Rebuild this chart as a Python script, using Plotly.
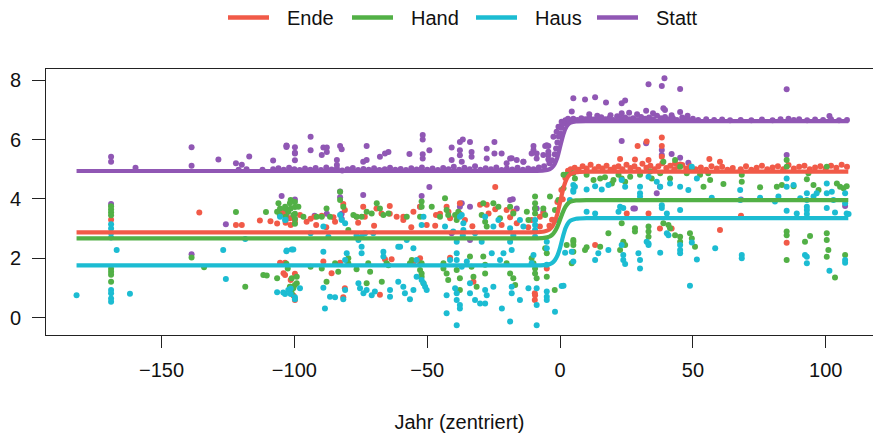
import plotly.graph_objects as go

# ---------------- data ----------------
series_names = ["Ende", "Hand", "Haus", "Statt"]
series_colors = ["#F15A48", "#52B046", "#1CBCD2", "#9057B4"]

x_ticks = [-150, -100, -50, 0, 50, 100]
x_tick_labels = ["\u2212150", "\u2212100", "\u221250", "0", "50", "100"]
y_ticks = [0, 2, 4, 6, 8]
y_tick_labels = ["0", "2", "4", "6", "8"]

# fitted curves, read at a few x positions
fit_x = [-182, -10, -6, -4, -3, -2, -1, 0, 1, 2, 3, 4, 6, 10, 108.5]
fit_ende = [2.87, 2.87, 2.9, 2.97, 3.06, 3.23, 3.5, 3.88, 4.27, 4.57, 4.75, 4.84, 4.9, 4.92, 4.92]
fit_hand = [2.67, 2.67, 2.69, 2.73, 2.79, 2.9, 3.07, 3.3, 3.54, 3.73, 3.85, 3.91, 3.95, 3.96, 3.96]
fit_haus = [1.76, 1.76, 1.77, 1.8, 1.84, 1.93, 2.09, 2.35, 2.7, 3.0, 3.18, 3.27, 3.33, 3.35, 3.35]
fit_statt = [4.94, 4.94, 4.96, 5.0, 5.06, 5.18, 5.4, 5.75, 6.1, 6.36, 6.5, 6.57, 6.61, 6.62, 6.62]

# observed points (x, y)
ende_points = [
    (-135.8, 3.54), (-122, 3.12), (-119.8, 3.12), (-113, 3.27), (-109, 3.25), (-106.5, 3.17),
    (-103.3, 3.2), (-101.4, 3.12), (-99.8, 3.3), (-99.8, 3.2), (-169, 3.3), (-103.5, 1.85),
    (-103.5, 1.44), (-101.4, 1.27), (-99.8, 1.48), (-99.8, 0.6),
    (-104.8, 3.57), (-103.5, 3.51), (-101.7, 3.35), (-97.9, 3.46), (-95.4, 3.23), (-92.4, 3.4),
    (-91.8, 3.12), (-93.9, 3.33), (-89.7, 3.43), (-85.3, 3.38), (-84.7, 3.23), (-81.6, 3.83),
    (-81, 3.63), (-76.6, 3.4), (-76, 3.2), (-74.1, 3.74), (-73.5, 3.4), (-69.1, 3.68),
    (-67.2, 3.51), (-64.1, 3.76), (-64.1, 3.5), (-61.5, 3.4), (-59, 3.4), (-59, 3.29),
    (-55.2, 3.57), (-52.7, 3.74), (-50.2, 3.12), (-46.7, 3.46), (-45.2, 3.5), (-42.7, 3.74),
    (-42, 3.57), (-41.4, 3.35), (-37.7, 3.85), (-37.7, 3.5), (-35.8, 3.29), (-30.1, 3.8),
    (-27.6, 3.8), (-26.9, 3.51), (-24.4, 4.4), (-24.4, 3.65), (-20.1, 3.63), (-18.8, 3.38),
    (-17.6, 3.57), (-16.3, 3.18), (-10.7, 3.29), (-7.6, 3.4), (-6.3, 3.5), (-7.6, 3.07),
    (-88, 3.05), (-70, 3.1), (-56, 3.05), (-47, 3.1), (-33, 3.08), (-22, 3.12), (-12, 3.05), (-4, 3.1),
    (-89.1, 1.89), (-86, 1.5), (-82.8, 1.85), (-81, 0.99), (-81.6, 0.69), (-67.8, 0.77),
    (-65.9, 1.97), (-55.2, 1.85), (-52.7, 2.0), (-52.7, 1.8), (-41.4, 2.02), (-32.6, 1.21),
    (-9.5, 0.82), (-9.5, 0.6), (-105.4, 1.85), (-104.1, 1.5), (-100.3, 0.74), (-63.4, 1.97),
    (-5, 1.66), (-9.4, 0.76),
    (-3, 3.3), (-1, 3.9), (0.5, 4.3), (1, 3.99), (2, 4.7), (3, 4.95),
    (38.3, 6.07), (29.2, 5.78), (22.6, 5.34), (28.2, 5.33), (33.3, 5.31), (38.3, 5.78),
    (38.3, 5.42), (56.2, 5.34), (60.2, 5.25), (43.3, 5.2), (45.2, 5.16), (25.1, 3.51),
    (33.3, 3.51), (42, 3.0), (60.2, 2.95), (68.1, 3.43), (85.3, 2.52), (13.2, 2.45),
    (37.6, 3.0), (32.6, 5.93),
    (4, 5.0), (5.5, 5.05), (7, 4.98), (8.5, 5.1), (10, 5.02), (11.5, 5.15), (13, 5.0),
    (14.5, 5.08), (16, 5.02), (17.5, 5.12), (19, 4.98), (20.5, 5.06), (22, 5.1), (23.5, 5.0),
    (25, 5.15), (26.5, 5.04), (28, 5.1), (29.5, 4.98), (31, 5.18), (32.5, 5.05), (34, 5.12),
    (35.5, 5.0), (37, 5.1), (38.5, 5.2), (40, 5.04), (41.5, 5.12), (43, 5.0), (44.5, 5.08),
    (46, 5.14), (47.5, 5.02), (49, 5.1), (51, 5.0), (53, 5.06), (55, 4.98), (57, 5.1),
    (59, 5.02), (61, 5.08), (63, 4.98), (65, 5.04), (68, 5.0), (70, 5.1), (72, 4.98),
    (74, 5.05), (76, 5.12), (78, 5.0), (80, 5.06), (82, 5.1), (84, 5.0), (86, 5.14),
    (88, 5.02), (90, 5.08), (92, 5.12), (94, 5.0), (96, 5.06), (98, 5.1), (100, 5.02),
    (102, 5.12), (104, 5.05), (106, 5.15), (108, 5.08),
]

hand_points = [
    (-169, 3.75), (-169, 3.65), (-169, 3.55), (-169, 3.45), (-169, 1.65), (-169, 1.55),
    (-169, 1.45), (-169, 1.21), (-138.7, 2.03), (-134, 1.7), (-122, 3.56), (-118.5, 1.04),
    (-111.7, 1.44), (-110.4, 1.42), (-110.7, 3.56), (-106.5, 1.33), (-106, 3.85), (-106.5, 3.57),
    (-105.5, 3.46), (-103.3, 3.68), (-101.4, 3.68), (-103.3, 3.4), (-101.4, 3.96), (-99.8, 3.9),
    (-99.8, 3.73), (-103, 1.82), (-102.5, 1.66), (-101, 1.33), (-99.8, 3.5), (-99.8, 3.33),
    (-99.8, 3.16), (-101.4, 1.04), (-99.8, 1.1),
    (-105.4, 3.68), (-103.5, 3.74), (-102.3, 3.57), (-100.4, 3.46), (-98.5, 3.74), (-96.6, 3.4),
    (-101.7, 3.85), (-91.6, 3.4), (-89.7, 3.4), (-87.9, 3.68), (-86.6, 3.4), (-82.8, 4.24),
    (-82.8, 3.96), (-81.6, 3.74), (-79.7, 2.95), (-77.8, 3.46), (-76.6, 3.4), (-74.7, 3.4),
    (-72.8, 3.57), (-70.9, 3.51), (-69, 3.85), (-67.8, 3.68), (-66.5, 3.46), (-64.6, 3.51),
    (-57.7, 3.4), (-52.7, 3.4), (-52.1, 3.74), (-52.1, 3.91), (-48.3, 3.74), (-45.2, 3.4),
    (-43.3, 4.02), (-42.7, 3.63), (-42.1, 3.46), (-39.5, 3.46), (-38.9, 3.29), (-38.3, 3.57),
    (-28.9, 3.85), (-29.5, 3.46), (-28.2, 3.23), (-27.6, 3.07), (-25.1, 3.85), (-23.2, 3.74),
    (-22.6, 3.35), (-18.8, 3.74), (-17.6, 3.51), (-12.5, 3.57), (-11.9, 3.29), (-9.4, 4.08),
    (-9.4, 3.85), (-9.4, 3.68), (-9.4, 3.51), (-6.3, 3.68), (-5.6, 3.46), (-3.8, 4.08),
    (-1.9, 3.63), (-0.6, 3.96), (1.3, 4.36), (2.5, 4.81),
    (-99.1, 1.38), (-99.1, 1.16), (-101.7, 1.04), (-100.4, 0.99), (-101, 0.82), (-93.9, 1.72),
    (-89.7, 1.66), (-87.9, 1.21), (-84.7, 1.83), (-83.5, 1.55), (-79.7, 2.0), (-79.7, 1.83),
    (-76.6, 1.63), (-72.2, 1.83), (-71.5, 1.55), (-72.8, 1.16), (-67.1, 1.21), (-65.3, 1.83),
    (-64.6, 1.77), (-56.5, 1.83), (-55.8, 1.94), (-52.7, 1.61), (-52.1, 1.83), (-52.1, 1.49),
    (-52.1, 1.38), (-51.4, 1.16), (-43.9, 1.83), (-43.9, 1.66), (-42.7, 1.49), (-42.1, 1.27),
    (-38.9, 1.61), (-37.7, 1.33), (-37.7, 0.93), (-33.9, 2.06), (-33.3, 1.72), (-32.6, 1.38),
    (-31.4, 1.04), (-28.9, 2.06), (-28.2, 1.78), (-28.2, 1.49), (-20.1, 1.83), (-18.8, 1.49),
    (-17.6, 1.33), (-16.9, 1.1), (-10.7, 2.0), (-10, 1.83), (-9.4, 1.66), (-9.4, 1.49),
    (-8.8, 1.33), (-5.6, 2.34), (-5, 2.17), (-5, 1.38), (-2, 0.93), (2.5, 2.45), (5, 2.56),
    (5, 2.22), (4.4, 1.83),
    (5, 4.86), (5.6, 4.69), (10, 4.81), (12.6, 4.64), (15.1, 4.69), (16.9, 4.73), (19.5, 4.52),
    (20.1, 4.64), (22, 4.81), (23.2, 4.69), (24.5, 4.58), (26.4, 4.75), (30.1, 4.81),
    (33.9, 4.92), (34.5, 4.69), (37.7, 4.86), (38.9, 5.25), (41.4, 4.69), (43.3, 5.31),
    (45.2, 5.08), (47.7, 4.86), (49.6, 4.97), (52.7, 4.81), (55.8, 4.86), (56.5, 4.64),
    (54, 4.41), (61.5, 4.5), (68.4, 4.81), (68.4, 4.58), (75.3, 4.39), (81.6, 4.41),
    (83.5, 4.47), (85.3, 5.31), (85.3, 5.08), (87.9, 4.43), (92.9, 4.66), (93.5, 4.86),
    (95.4, 4.47), (97.3, 4.3), (100.4, 5.08), (104.2, 4.52), (105.4, 4.41), (106.7, 4.36),
    (107.9, 4.43), (1.3, 4.81),
    (5, 2.62), (5, 2.45), (10, 2.37), (9.4, 2.28), (18.2, 2.84), (23.2, 3.18), (23.8, 2.56),
    (24.5, 2.45), (28.2, 3.01), (28.2, 2.9), (33.3, 3.07), (33.3, 2.9), (33.3, 2.73),
    (38.9, 3.18), (40.8, 3.12), (41.4, 3.01), (43.3, 2.78), (45.2, 2.73), (45.2, 2.56),
    (48.9, 2.84), (49.6, 2.67), (50.8, 2.39), (85.3, 2.9), (85.3, 2.78), (85.3, 1.94),
    (92.2, 2.56), (94.1, 2.75), (100.4, 2.84), (100.4, 2.62), (101, 2.28), (100.4, 2.05),
    (103.5, 1.35), (107.3, 2.11), (22.6, 2.28), (15.1, 2.39),
]

haus_points = [
    (-182, 0.76), (-169, 0.93), (-169, 0.82), (-169, 0.65), (-169, 0.54), (-169, 3.15),
    (-169, 3.0), (-169, 2.85), (-169, 2.7), (-166.9, 2.28), (-161.9, 0.81), (-126.8, 2.28),
    (-125.8, 1.3), (-118.5, 2.65), (-106.5, 0.86), (-103.5, 0.8), (-101.4, 0.8), (-103, 2.24),
    (-101, 2.3), (-99.8, 0.69), (-103.3, 3.3), (-101.4, 0.98),
    (-105.4, 3.4), (-103.5, 3.29), (-93.9, 2.84), (-89.1, 3.07), (-87.2, 2.73), (-82.8, 3.46),
    (-82.2, 3.29), (-80.9, 3.18), (-76.6, 2.78), (-75.9, 2.62), (-74.7, 2.73), (-73.4, 2.84),
    (-70.3, 2.84), (-57.7, 2.62), (-60.2, 2.39), (-51.4, 3.4), (-52.1, 3.12), (-43.3, 3.07),
    (-40.2, 2.9), (-37.7, 3.4), (-37, 3.46), (-36.4, 3.18), (-36.4, 2.95), (-36.6, 2.78),
    (-32, 2.84), (-29.5, 2.56), (-28.2, 3.4), (-25.1, 3.07), (-23.2, 3.29), (-18.8, 3.01),
    (-17.6, 2.78), (-15.1, 3.29), (-13.8, 3.07), (-9.4, 3.29), (-9.4, 3.12), (-9.4, 2.95),
    (-9.4, 2.73), (-5, 2.56), (-5, 2.34), (-1.3, 3.29), (3.7, 3.96), (5, 4.3),
    (-102.9, 2.26), (-100.4, 2.3), (-89.1, 2.22), (-80.3, 2.17), (-80.9, 1.94), (-74.7, 2.39),
    (-74.7, 2.17), (-66.5, 2.22), (-66.5, 2.06), (-60.9, 2.39), (-55.2, 2.34), (-54, 1.94),
    (-41.4, 1.94), (-38.9, 2.56), (-38.9, 2.17), (-38.9, 1.94), (-37, 1.72), (-35.1, 1.89),
    (-25.7, 2.17), (-22.6, 1.94), (-21.3, 2.17), (-18.8, 2.56), (-18.2, 2.28), (-10.7, 1.83),
    (-10, 2.11), (-5, 1.78),
    (-104.2, 0.85), (-102.3, 0.93), (-97.9, 0.99), (-99.8, 0.62), (-89.1, 1.01), (-88.5, 0.31),
    (-86.6, 0.71), (-84.7, 0.69), (-81.6, 0.62), (-80.9, 0.93), (-75.9, 1.16), (-75.3, 0.99),
    (-74, 0.82), (-72.8, 0.93), (-70.9, 0.76), (-69.7, 0.88), (-64, 0.93), (-64, 0.71),
    (-60.9, 1.21), (-59, 1.04), (-58.4, 0.82), (-56.5, 0.62), (-55.2, 0.93), (-54, 1.38),
    (-52.1, 1.27), (-51.4, 1.16), (-50.8, 1.04), (-50.2, 0.93), (-42.7, 0.76), (-42.7, 0.15),
    (-39.5, 0.99), (-38.9, 0.82), (-38.9, 0.6), (-38.9, -0.25), (-37.7, 0.43), (-37.7, 0.31),
    (-33.9, 1.16), (-33.9, 0.82), (-32, 0.6), (-30.1, 0.48), (-28.2, 0.48), (-28.2, 0.93),
    (-27.6, 0.76), (-25.1, 1.04), (-21.9, 0.31), (-18.8, -0.13), (-18.2, 1.04), (-18.2, 0.82),
    (-15.1, 0.6), (-11.9, 0.99), (-8.8, 0.99), (-8.8, 0.43), (-8.8, -0.25), (-5, 0.88),
    (-5, 0.71), (-5, 0.6), (-1.9, 0.2), (0.6, 1.07),
    (5, 4.47), (5, 4.24), (5.6, 4.41), (10, 4.32), (13.2, 4.43), (15.7, 4.32), (18.2, 4.47),
    (23.2, 4.64), (24.5, 4.41), (30.1, 4.41), (30.1, 4.19), (30.1, 4.08), (33.3, 4.75),
    (36.4, 4.58), (37.7, 4.41), (41.4, 4.52), (45.2, 4.41), (49.6, 5.08), (48.3, 4.3),
    (51.5, 4.69), (57.1, 4.04), (67.8, 4.3), (67.8, 3.96), (75.3, 4.04), (80.9, 3.91),
    (82.2, 4.08), (85.3, 4.41), (85.3, 4.69), (87.9, 4.47), (90.4, 4.02), (92.9, 4.19),
    (92.9, 3.96), (92.9, 3.74), (95.4, 4.08), (96.6, 4.19), (100.4, 4.52), (100.4, 4.19),
    (102.3, 4.24), (102.9, 3.96), (107.3, 4.19), (107.3, 3.85), (107.9, 3.51),
    (10, 3.57), (13.2, 3.51), (22, 3.57), (22.6, 3.74), (23.8, 3.69), (38.3, 3.79),
    (38.3, 3.69), (40.2, 3.51), (45.2, 3.63), (89.1, 3.51), (92.9, 3.63), (92.9, 3.49),
    (100.4, 3.69), (103.5, 3.54), (108.6, 3.49), (85.3, 3.6),
    (1.9, 2.19), (1.3, 1.08), (5, 1.89), (13.2, 1.94), (14.4, 2.17), (18.2, 2.28), (23.2, 2.45),
    (23.8, 2.11), (23.8, 1.94), (24.5, 1.81), (29.5, 2.17), (30.1, 1.94), (30.1, 1.66),
    (32.6, 2.56), (33.3, 2.5), (33.3, 2.45), (37.7, 2.19), (40.2, 2.84), (40.8, 2.78),
    (45.2, 2.45), (45.2, 2.28), (45.2, 2.17), (49.6, 2.53), (51.5, 1.96), (48.9, 1.08),
    (58.4, 2.34), (68.4, 2.11), (68.4, 2.0), (92.2, 2.11), (92.9, 1.83), (92.9, 2.05),
    (101.4, 1.58), (107.3, 1.94), (107.3, 1.85), (4.4, 2.22),
]

statt_points = [
    (-169, 5.42), (-169, 5.25), (-169, 3.83), (-159.8, 5.05), (-138.7, 5.74), (-138.7, 5.12),
    (-138.7, 2.14), (-128.6, 5.33), (-125.8, 3.15), (-122, 5.2), (-119.8, 5.15), (-117, 5.43),
    (-108, 5.29), (-104.8, 4.1), (-103, 5.8), (-103, 5.75), (-103, 3.46), (-99.8, 5.74),
    (-99.8, 5.55), (-99.8, 3.98), (-102.9, 5.78), (-99.8, 5.3), (-99.8, 5.53), (-93.9, 6.09),
    (-93.9, 5.64), (-89.1, 5.73), (-87.8, 5.73), (-87.8, 5.58), (-87.8, 3.5), (-89.7, 5.48),
    (-82.8, 5.78), (-82.2, 5.67), (-84, 5.31), (-84, 5.14), (-82.8, 4.25), (-82.8, 4.06),
    (-82.2, 3.5), (-82.2, 3.33), (-92.4, 3.43), (-72.8, 5.78), (-72.8, 5.31), (-74.1, 5.25),
    (-74.1, 4.13), (-67.8, 5.42), (-65.9, 5.53), (-64.6, 5.58), (-56.7, 5.51),
    (-51.7, 6.15), (-51.7, 6.0), (-51.7, 5.5), (-51.7, 5.36), (-52.1, 4.1), (-49.2, 5.64),
    (-49.2, 4.4), (-52.7, 3.74), (-40.8, 5.73), (-37.7, 5.92), (-36.6, 6.0), (-33.9, 5.92),
    (-40.8, 5.31), (-37.7, 5.64), (-37.7, 5.47), (-37, 5.25), (-33.3, 5.58), (-33.3, 5.42),
    (-37.7, 3.74), (-37, 3.85), (-33.9, 2.62), (-33.9, 3.74), (-40.8, 2.84), (-27.6, 5.69),
    (-27.6, 5.36), (-24.7, 5.92), (-24.7, 5.53), (-22, 5.53), (-18.8, 5.36), (-18.8, 3.96),
    (-16.3, 3.68), (-17.8, 3.99), (-13.8, 5.25), (-10, 5.78), (-8.8, 5.36), (-8.8, 5.53),
    (-8.8, 3.68), (-6.3, 3.57), (-9.4, 3.68), (-5.6, 5.78), (-4.4, 5.78), (-4.4, 5.47),
    (-4.4, 5.33), (-5, 5.81), (-4.4, 5.59), (-6.3, 5.48), (-10, 5.65), (-10.7, 5.53),
    (-13.8, 5.25), (-16.3, 5.31), (-18.2, 5.37), (-20.1, 5.2), (-2.5, 6.09), (-1.3, 6.26),
    (-0.6, 6.43), (0, 6.2), (0.6, 6.6), (1.2, 6.54), (2.5, 6.6),
    (-121, 4.98), (-118, 5.0), (-112, 4.98), (-108, 5.0), (-106, 5.03), (-104, 4.98),
    (-102, 5.05), (-100, 5.0), (-98, 4.97), (-96, 5.02), (-94, 4.98), (-92, 5.04), (-90, 4.97),
    (-88, 5.06), (-86, 4.99), (-84, 5.02), (-82, 4.96), (-80, 5.0), (-78, 5.04), (-76, 4.97),
    (-74, 5.01), (-72, 4.98), (-70, 5.03), (-68, 4.97), (-66, 5.0), (-64, 5.05), (-62, 4.98),
    (-60, 5.01), (-58, 4.97), (-56, 5.03), (-54, 4.99), (-52, 5.06), (-50, 4.98), (-48, 5.02),
    (-46, 4.97), (-44, 5.04), (-42, 5.0), (-40, 5.08), (-38, 4.98), (-36, 5.05), (-34, 5.0),
    (-32, 5.1), (-30, 4.98), (-28, 5.03), (-26, 5.0), (-24, 5.06), (-22, 4.97), (-20, 5.02),
    (-18, 4.99), (-16, 5.05), (-14, 4.98), (-12, 5.02), (-10, 5.0), (-8, 5.06), (-6, 5.1),
    (-4, 5.2), (-3, 5.3), (-2, 5.5), (-1.5, 5.7), (-1, 5.9), (-0.5, 6.1), (0.5, 6.4),
    (1, 6.55), (2, 6.65), (3, 6.7),
    (5.0, 7.39), (9.4, 7.35), (13.2, 7.42), (17.3, 7.25), (4.4, 6.94), (23.2, 7.22),
    (24.5, 7.31), (33.3, 7.86), (38.3, 7.8), (39.3, 8.06), (45.2, 7.7), (23.2, 6.88),
    (32.4, 6.97), (38.9, 7.05), (39.5, 6.99), (45.2, 6.93), (85.3, 7.69), (101.4, 6.79),
    (23.2, 5.95), (32.4, 5.87), (38.3, 5.65), (38.3, 5.48), (42, 5.51), (45.2, 5.39),
    (48.3, 5.22), (37.6, 4.41), (36.4, 4.19), (28.2, 3.68), (85.3, 5.48), (107.3, 3.76),
    (68.1, 3.98), (27.6, 3.68), (11, 6.85), (14, 6.8), (19, 6.82), (26, 6.9), (29, 6.85),
    (35, 6.88), (42, 6.82), (48, 6.8),
    (3.5, 6.65), (5, 6.7), (6.5, 6.66), (8, 6.72), (9.5, 6.68), (11, 6.74), (12.5, 6.67),
    (14, 6.7), (15.5, 6.75), (17, 6.68), (18.5, 6.72), (20, 6.66), (21.5, 6.78), (23, 6.7),
    (24.5, 6.74), (26, 6.68), (27.5, 6.72), (29, 6.66), (30.5, 6.76), (32, 6.7), (33.5, 6.74),
    (35, 6.68), (36.5, 6.8), (38, 6.72), (39.5, 6.76), (41, 6.68), (42.5, 6.72), (44, 6.66),
    (46, 6.74), (48, 6.68), (50, 6.7), (52, 6.66), (55, 6.68), (58, 6.66), (61, 6.67),
    (64, 6.65), (68, 6.66), (72, 6.65), (76, 6.67), (80, 6.65), (83, 6.68), (86, 6.7),
    (88, 6.66), (90, 6.68), (93, 6.65), (96, 6.67), (99, 6.66), (102, 6.68), (105, 6.65),
    (108, 6.66),
]

# ---------------- figure ----------------
W, H = 873, 433
M_L, M_R, M_T, M_B = 46, 0, 69, 98
FONT = "Liberation Sans, Arial, Helvetica, sans-serif"
TXT = "#111111"

points_by_series = [ende_points, hand_points, haus_points, statt_points]
fits_by_series = [fit_ende, fit_hand, fit_haus, fit_statt]

fig = go.Figure()

# points (drawn in this order: Statt, Ende, Hand, Haus)
for idx in [3, 0, 1, 2]:
    pts = points_by_series[idx]
    fig.add_trace(go.Scatter(
        x=[p[0] for p in pts], y=[p[1] for p in pts],
        mode="markers", name=series_names[idx], showlegend=False,
        marker=dict(color=series_colors[idx], size=6, line=dict(width=0)),
        hoverinfo="skip",
    ))

# fitted curves
for idx in range(4):
    fig.add_trace(go.Scatter(
        x=fit_x, y=fits_by_series[idx], mode="lines", name=series_names[idx],
        showlegend=False, line=dict(color=series_colors[idx], width=4.2, shape="spline", smoothing=0.5),
    ))

# legend drawn as shapes + text across the top
plot_w = W - M_L - M_R
plot_h = H - M_T - M_B
def px_x(px):
    return (px - M_L) / plot_w
def px_y(py):
    return (H - M_B - py) / plot_h

legend_swatch_px = [228, 352, 476, 597]
legend_y_px = 17.5
for i, name in enumerate(series_names):
    x0 = legend_swatch_px[i]
    fig.add_shape(type="line", xref="paper", yref="paper",
                  x0=px_x(x0), x1=px_x(x0 + 41), y0=px_y(legend_y_px), y1=px_y(legend_y_px),
                  line=dict(color=series_colors[i], width=4.5))
    fig.add_annotation(xref="paper", yref="paper", x=px_x(x0 + 57), y=px_y(legend_y_px),
                       text=name, showarrow=False, xanchor="left", yanchor="middle",
                       font=dict(family=FONT, size=20, color=TXT))

# y tick labels placed as text to the left of the ticks
for v, lab in zip(y_ticks, y_tick_labels):
    fig.add_annotation(xref="paper", yref="y", x=px_x(23), y=v, text=lab,
                       showarrow=False, xanchor="right", yanchor="middle",
                       font=dict(family=FONT, size=20, color=TXT))

fig.update_layout(
    width=W, height=H,
    margin=dict(l=M_L, r=M_R, t=M_T, b=M_B, pad=0),
    paper_bgcolor="white", plot_bgcolor="white",
    font=dict(family=FONT, size=20, color=TXT),
    showlegend=False,
)
fig.update_xaxes(
    range=[-193.5, 117.8], tickvals=x_ticks, ticktext=x_tick_labels,
    showgrid=False, zeroline=False,
    showline=True, mirror=True, linecolor="#222222", linewidth=1.2,
    ticks="outside", ticklen=12, tickwidth=1.2, tickcolor="#222222",
    ticklabelstandoff=5,
    title=dict(text="Jahr (zentriert)", standoff=34, font=dict(family=FONT, size=20, color=TXT)),
)
fig.update_yaxes(
    range=[-0.582, 8.374], tickvals=y_ticks, ticktext=["" for _ in y_ticks],
    showgrid=False, zeroline=False,
    showline=True, mirror=False, linecolor="#222222", linewidth=1.2,
    ticks="outside", ticklen=13, tickwidth=1.2, tickcolor="#222222",
)

fig.write_html("out.html")
